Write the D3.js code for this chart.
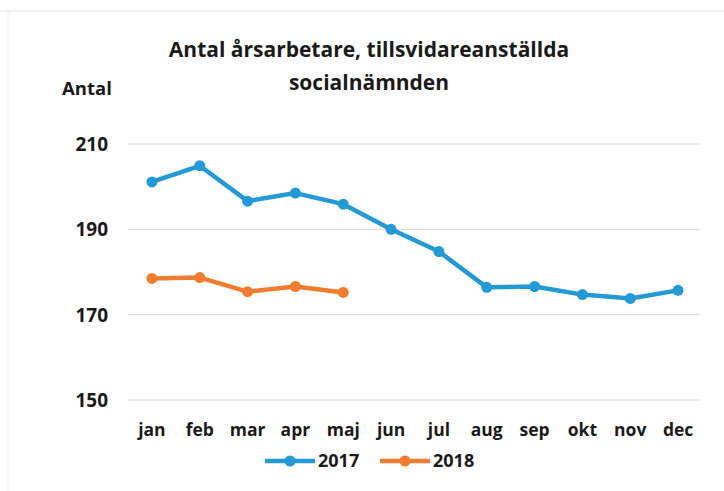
<!DOCTYPE html>
<html>
<head>
<meta charset="utf-8">
<script src="https://cdn.jsdelivr.net/npm/d3@7"></script>
<style>
  body { margin: 0; background: #fff; }
  svg text { font-family: "Open Sans", sans-serif; font-weight: bold; fill: #1a1a1a; }
</style>
</head>
<body>
<div id="chart"></div>
<script>
// Data
var months = ["jan", "feb", "mar", "apr", "maj", "jun", "jul", "aug", "sep", "okt", "nov", "dec"];
var values2017 = [201.1, 204.9, 196.6, 198.5, 195.9, 190.0, 184.8, 176.4, 176.6, 174.7, 173.8, 175.7];
var values2018 = [178.5, 178.7, 175.4, 176.6, 175.2];
var yTicks = [150, 170, 190, 210];
var seriesNames = ["2017", "2018"];
var seriesColors = ["#2399d6", "#f07c30"];

var width = 724, height = 491;

var svg = d3.select("#chart").append("svg")
    .attr("width", width)
    .attr("height", height);

// faint scan frame
svg.append("line").attr("x1", 0).attr("x2", width).attr("y1", 11).attr("y2", 11)
    .attr("stroke", "#e2e2e2").attr("stroke-width", 1);
svg.append("line").attr("x1", 8).attr("x2", 8).attr("y1", 11).attr("y2", height)
    .attr("stroke", "#ececec").attr("stroke-width", 1);

var x = d3.scaleBand().domain(months).range([128, 702]).padding(0);
var y = d3.scaleLinear().domain([150, 210]).range([400, 144]);

// Gridlines
svg.append("g")
    .selectAll("line")
    .data(yTicks)
  .enter().append("line")
    .attr("x1", 128)
    .attr("x2", 700)
    .attr("y1", function(d) { return y(d); })
    .attr("y2", function(d) { return y(d); })
    .attr("stroke", "#d4d4d4")
    .attr("stroke-width", 1);

// Y axis labels
var yAxis = d3.axisLeft(y).tickValues(yTicks).tickSize(0).tickPadding(0);
var yg = svg.append("g")
    .attr("transform", "translate(108,0)")
    .call(yAxis);
yg.select(".domain").remove();
yg.selectAll("text")
    .style("font-size", "19px")
    .attr("dy", "0.35em");

// X axis labels
var xAxis = d3.axisBottom(x).tickSize(0).tickPadding(0);
var xg = svg.append("g")
    .attr("transform", "translate(0,436)")
    .call(xAxis);
xg.select(".domain").remove();
xg.selectAll("text")
    .style("font-size", "17.5px")
    .attr("dy", "0");

// Titles
svg.append("text")
    .attr("x", 369)
    .attr("y", 57)
    .attr("text-anchor", "middle")
    .style("font-size", "21px")
    .text("Antal årsarbetare, tillsvidareanställda");
svg.append("text")
    .attr("x", 369)
    .attr("y", 90)
    .attr("text-anchor", "middle")
    .style("font-size", "21px")
    .text("socialnämnden");
svg.append("text")
    .attr("x", 62)
    .attr("y", 95)
    .style("font-size", "18.5px")
    .text("Antal");

// Lines
var line = d3.line()
    .x(function(d, i) { return x(months[i]) + x.bandwidth() / 2; })
    .y(function(d) { return y(d); });

[values2017, values2018].forEach(function(vals, s) {
  svg.append("path")
      .datum(vals)
      .attr("fill", "none")
      .attr("stroke", seriesColors[s])
      .attr("stroke-width", 4.5)
      .attr("stroke-linejoin", "round")
      .attr("d", line);

  svg.selectAll(".dot" + s)
      .data(vals)
    .enter().append("circle")
      .attr("class", "dot" + s)
      .attr("cx", function(d, i) { return x(months[i]) + x.bandwidth() / 2; })
      .attr("cy", function(d) { return y(d); })
      .attr("r", 5.5)
      .attr("fill", seriesColors[s]);
});

// Legend
var legendX = [265, 380];
seriesNames.forEach(function(name, s) {
  var lg = svg.append("g").attr("transform", "translate(" + legendX[s] + ",461)");
  lg.append("line")
      .attr("x1", 0).attr("x2", 50)
      .attr("stroke", seriesColors[s])
      .attr("stroke-width", 4.5);
  lg.append("circle")
      .attr("cx", 25).attr("r", 5.5)
      .attr("fill", seriesColors[s]);
  lg.append("text")
      .attr("x", 53)
      .attr("dy", "0.35em")
      .style("font-size", "18px")
      .text(name);
});
</script>
</body>
</html>
